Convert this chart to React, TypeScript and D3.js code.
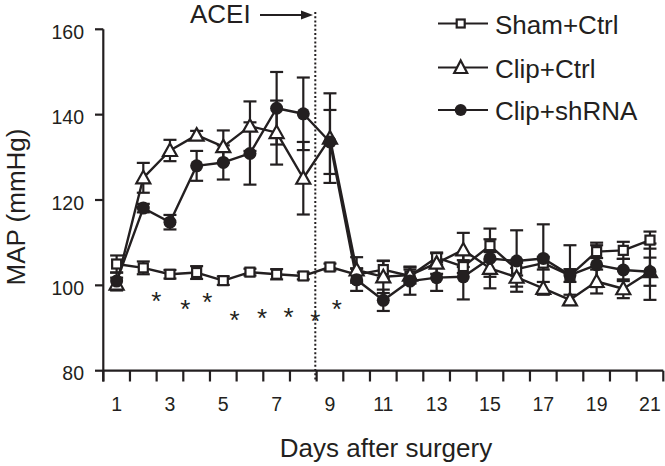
import React from "react";
import * as d3 from "d3";

// ---- data ----
const days = [1, 2, 3, 4, 5, 6, 7, 8, 9, 10, 11, 12, 13, 14, 15, 16, 17, 18, 19, 20, 21];
const xTickLabels = [1, 3, 5, 7, 9, 11, 13, 15, 17, 19, 21];
const yTicks = [80, 100, 120, 140, 160];

const shamCtrl = [105, 104.1, 102.6, 103, 101.1, 103.1, 102.6, 102.2, 104.3, 102.5, 103.7, 102.2, 106.5, 104.4, 109.3, 103.8, 105.2, 102.3, 107.9, 108.2, 110.6];
const shamCtrlErr = [2, 1.5, 1, 1.5, 1, 0.8, 1.2, 0.8, 0.8, 1.5, 2, 1.5, 1, 1.5, 1.5, 1.5, 1.5, 1.5, 1.5, 2, 2];

const clipCtrl = [100.3, 125.2, 131.6, 135.2, 132.5, 137.3, 135.8, 125.1, 134.5, 103.6, 102, 102.4, 105.2, 108.3, 104, 101.9, 99.3, 96.6, 100.9, 99.2, 103.2];
const clipCtrlErr = [1.5, 3.5, 2.5, 1, 3.8, 5.8, 7.5, 8.5, 10.5, 3, 3.8, 2, 2.5, 4, 2, 2.2, 1.5, 1.2, 2.8, 2.2, 3.3];

const clipShRNA = [101, 118.1, 114.8, 128, 128.8, 130.9, 141.5, 140.2, 133.6, 101.3, 96.5, 101, 101.8, 102, 106.3, 105.7, 106.3, 102.4, 104.8, 103.6, 103.2];
const clipShRNAErr = [2, 1, 1.7, 3.5, 4, 7.3, 8.5, 8.5, 7.5, 2.6, 2.5, 3.2, 3.1, 5.3, 7, 7.2, 8, 7, 5.2, 2.6, 6.6];

const starDays = [2.49, 3.58, 4.4, 5.42, 6.45, 7.45, 8.45, 9.26];
const starValues = [97.7, 95.8, 97.5, 93.3, 93.7, 94.1, 93.1, 95.8];

const aceiDay = 8.45;
const legendLabels = ["Sham+Ctrl", "Clip+Ctrl", "Clip+shRNA"];

const INK = "#231f20";
const FONT = "'Liberation Sans', Arial, Helvetica, sans-serif";

function Marker({ kind, x, y, small }: { kind: string; x: number; y: number; small?: boolean }) {
  if (kind === "square") {
    const s = small ? 8 : 9;
    return <rect x={x - s / 2} y={y - s / 2} width={s} height={s} fill="#fff" stroke={INK} strokeWidth={2.2} />;
  }
  if (kind === "triangle") {
    const w = small ? 6.5 : 7;
    return (
      <path
        d={`M${x},${y - 7}L${x + w},${y + 5.5}L${x - w},${y + 5.5}Z`}
        fill="#fff"
        stroke={INK}
        strokeWidth={2.2}
        strokeLinejoin="miter"
      />
    );
  }
  return <circle cx={x} cy={y} r={small ? 6 : 6.5} fill={INK} />;
}

export default function App() {
  const xBand = d3.scaleBand<number>().domain(days).range([103.3, 663.3]).padding(0);
  const bw = xBand.bandwidth();
  const xc = (d: number) => (xBand(d) as number) + bw / 2;
  const xLin = d3.scaleLinear().domain([1, 21]).range([xc(1), xc(21)]);
  const y = d3.scaleLinear().domain([80, 160]).range([370.7, 29.3]);

  const x0 = 103.3;
  const y0 = y(80);
  const tickEdges = [...days.map((d) => xBand(d) as number), 663.3];

  const series = [
    { kind: "square", vals: shamCtrl, errs: shamCtrlErr },
    { kind: "triangle", vals: clipCtrl, errs: clipCtrlErr },
    { kind: "circle", vals: clipShRNA, errs: clipShRNAErr },
  ];

  const line = d3
    .line<number>()
    .x((_, i) => xc(days[i]))
    .y((v) => y(v));

  const capHalf = 6.5;
  const aceiX = xLin(aceiDay);

  return (
    <svg
      width={665}
      height={466}
      style={{ position: "absolute", left: 0, top: 0, display: "block", background: "#fff" }}
      fontFamily={FONT}
    >
      <rect x={0} y={0} width={665} height={466} fill="#fff" />

      {/* ACEI dotted line and label */}
      <line x1={aceiX} x2={aceiX} y1={12} y2={381} stroke={INK} strokeWidth={2} strokeDasharray="2,2.2" />
      <text x={190} y={23.3} fontSize={26} fill={INK}>ACEI</text>
      <line x1={260} x2={304} y1={15} y2={15} stroke={INK} strokeWidth={2.2} />
      <path d={`M313,15L301,10.5L301,19.5Z`} fill={INK} />

      {/* axes */}
      <line x1={x0} x2={x0} y1={y(160)} y2={381.5} stroke={INK} strokeWidth={2.2} />
      <line x1={x0} x2={663.3} y1={y0} y2={y0} stroke={INK} strokeWidth={2.2} />
      {yTicks.map((t) => (
        <g key={t}>
          <line x1={95} x2={x0} y1={y(t)} y2={y(t)} stroke={INK} strokeWidth={2.2} />
          <text x={84} y={y(t) + 9.5} textAnchor="end" fontSize={19.5} fill={INK}>
            {t}
          </text>
        </g>
      ))}
      {tickEdges.map((tx, i) => (
        <line key={i} x1={tx} x2={tx} y1={y0} y2={381.5} stroke={INK} strokeWidth={2.2} />
      ))}
      {xTickLabels.map((d) => (
        <text key={d} x={xc(d)} y={410.5} textAnchor="middle" fontSize={19.5} fill={INK}>
          {d}
        </text>
      ))}

      {/* axis titles */}
      <text x={386} y={457.3} textAnchor="middle" fontSize={26} fill={INK}>
        Days after surgery
      </text>
      <text transform={`translate(25,207) rotate(-90)`} textAnchor="middle" fontSize={26} fill={INK}>
        MAP (mmHg)
      </text>

      {/* series */}
      {series.map((s, si) => (
        <g key={si}>
          {s.vals.map((v, i) => {
            const cx = xc(days[i]);
            const top = y(v + s.errs[i]);
            const bot = y(v - s.errs[i]);
            return (
              <g key={i} stroke={INK} strokeWidth={2.2}>
                <line x1={cx} x2={cx} y1={top} y2={bot} />
                <line x1={cx - capHalf} x2={cx + capHalf} y1={top} y2={top} />
                <line x1={cx - capHalf} x2={cx + capHalf} y1={bot} y2={bot} />
              </g>
            );
          })}
          <path d={line(s.vals) || ""} fill="none" stroke={INK} strokeWidth={2.4} strokeLinejoin="round" />
        </g>
      ))}
      {series.map((s, si) => (
        <g key={"m" + si}>
          {s.vals.map((v, i) => (
            <Marker key={i} kind={s.kind} x={xc(days[i])} y={y(v)} />
          ))}
        </g>
      ))}

      {/* significance asterisks */}
      {starDays.map((d, i) => (
        <text key={i} x={xLin(d)} y={y(starValues[i]) + 15} textAnchor="middle" fontSize={26} fill={INK}>
          *
        </text>
      ))}

      {/* legend */}
      {legendLabels.map((lab, i) => {
        const ly = [23.5, 67.5, 110][i];
        return (
          <g key={lab}>
            <line x1={438} x2={488} y1={ly} y2={ly} stroke={INK} strokeWidth={2.2} />
            <Marker kind={series[i].kind} x={460.7} y={ly} small />
            <text x={495} y={ly + 10} fontSize={26} fill={INK}>
              {lab}
            </text>
          </g>
        );
      })}
    </svg>
  );
}
